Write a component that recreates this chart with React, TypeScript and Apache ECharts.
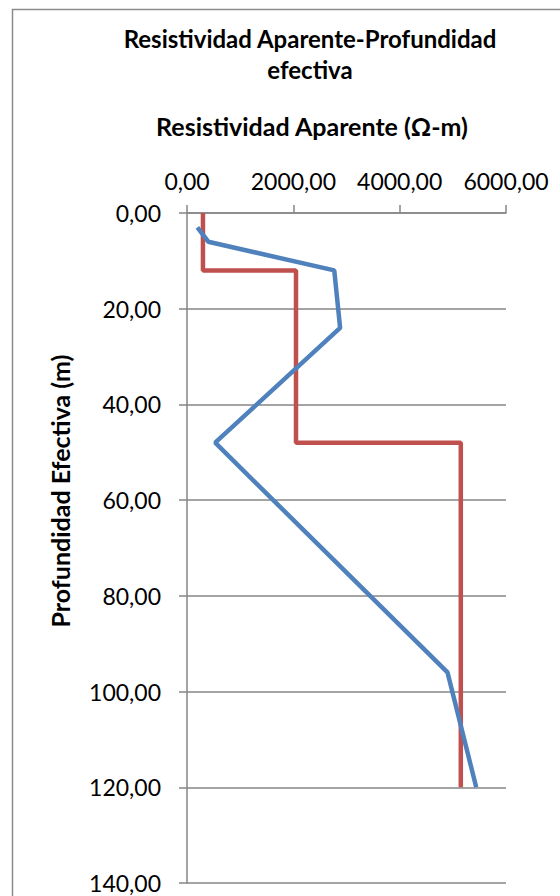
import React, { useEffect, useRef } from "react";
import * as echarts from "echarts";

const redDepth = [0, 12, 12, 48, 48, 120];
const redRes = [300, 300, 2050, 2050, 5150, 5150];
const blueDepth = [3, 6, 12, 24, 48, 96, 120];
const blueRes = [195, 400, 2770, 2880, 530, 4900, 5440];

const titleText = "Resistividad Aparente-Profundidad\nefectiva";
const xName = "Resistividad Aparente (Ω-m)";
const yName = "Profundidad Efectiva (m)";

const fmt = (v: number) => v.toFixed(2).replace(".", ",");
const FONT = "Lato";

export default function App() {
  const ref = useRef<HTMLDivElement>(null);
  useEffect(() => {
    document.body.style.margin = "0";
    const chart = echarts.init(ref.current!, null, { renderer: "svg" });
    chart.setOption({
      animation: false,
      backgroundColor: "#fff",
      graphic: [
        {
          type: "rect",
          left: 10,
          top: 7,
          shape: { width: 620, height: 1000 },
          style: { fill: "none", stroke: "#8c8c8c", lineWidth: 1.5 },
          z: -1,
        },
        {
          type: "text",
          x: 60,
          y: 491,
          rotation: Math.PI / 2,
          style: {
            text: yName,
            fontFamily: FONT,
            fontWeight: "bold",
            fontSize: 25,
            fill: "#000",
            align: "center",
            verticalAlign: "middle",
          },
        },
      ],
      title: [
        {
          text: titleText,
          left: 305,
          top: 18,
          textAlign: "center",
          textStyle: { fontFamily: FONT, fontWeight: "bold", fontSize: 24, lineHeight: 31, color: "#000" },
        },
        {
          text: xName,
          left: 307,
          top: 108,
          textAlign: "center",
          textStyle: { fontFamily: FONT, fontWeight: "bold", fontSize: 25, color: "#000" },
        },
      ],
      grid: { left: 187, top: 213, right: 54, bottom: 13, containLabel: false },
      xAxis: {
        type: "value",
        position: "top",
        min: 0,
        max: 6000,
        interval: 2000,
        axisLine: { show: true, lineStyle: { color: "#868686", width: 1.5 } },
        axisTick: { show: true, inside: false, length: 8, lineStyle: { color: "#868686", width: 1.5 } },
        splitLine: { show: false },
        axisLabel: { formatter: fmt, fontFamily: FONT, fontSize: 23, color: "#000", margin: 21 },
      },
      yAxis: {
        type: "value",
        inverse: true,
        min: 0,
        max: 140,
        interval: 20,
        axisLine: { show: true, lineStyle: { color: "#868686", width: 1.5 } },
        axisTick: { show: true, inside: false, length: 8, lineStyle: { color: "#868686", width: 1.5 } },
        splitLine: { show: true, lineStyle: { color: "#868686", width: 1.5 } },
        axisLabel: { formatter: fmt, fontFamily: FONT, fontSize: 23, lineHeight: 19, color: "#000", margin: 26 },
      },
      series: [
        {
          type: "line",
          data: redRes.map((x, i) => [x, redDepth[i]]),
          showSymbol: false,
          lineStyle: { color: "#C0504D", width: 4.5 },
          itemStyle: { color: "#C0504D" },
        },
        {
          type: "line",
          data: blueRes.map((x, i) => [x, blueDepth[i]]),
          showSymbol: false,
          lineStyle: { color: "#4F81BD", width: 4.5 },
          itemStyle: { color: "#4F81BD" },
        },
      ],
    });
    return () => chart.dispose();
  }, []);
  return <div ref={ref} style={{ width: 560, height: 896 }} />;
}
